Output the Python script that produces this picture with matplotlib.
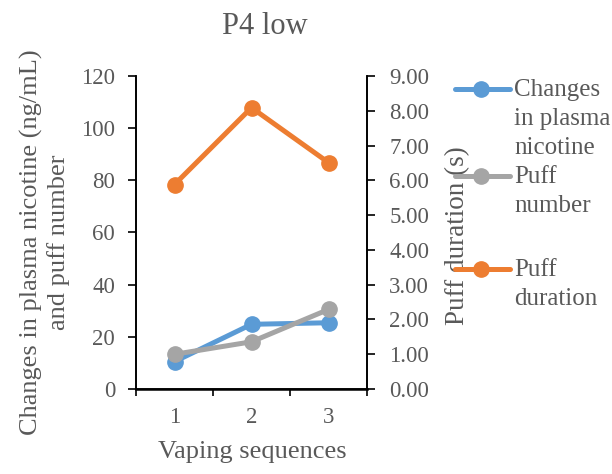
import numpy as np
import matplotlib.pyplot as plt
from matplotlib.lines import Line2D

plt.rcParams['font.family'] = ['Liberation Serif', 'DejaVu Serif']

# --- data ---
sequences = [1, 2, 3]
plasma_nicotine = [10.5, 24.8, 25.4]
puff_number = [13.3, 18.1, 30.5]
puff_duration = [5.88, 8.09, 6.51]

blue = '#5B9BD5'
gray = '#A5A5A5'
orange = '#ED7D31'
txt = '#595959'

W, H = 612, 474
fig = plt.figure(figsize=(W / 100, H / 100), dpi=100)

# plot area in pixels: left 136, right 367, top 76, bottom 389
ax = fig.add_axes([136 / W, 1 - 389 / H, (367 - 136) / W, (389 - 76) / H])
ax2 = ax.twinx()

lw, ms = 3.6, 11
ax.plot(sequences, plasma_nicotine, color=blue, lw=lw, marker='o', ms=ms,
        solid_capstyle='round')
ax.plot(sequences, puff_number, color=gray, lw=lw, marker='o', ms=ms,
        solid_capstyle='round')
ax2.plot(sequences, puff_duration, color=orange, lw=lw, marker='o', ms=ms,
         solid_capstyle='round')

# --- axes ---
ax.set_xlim(0.5, 3.5)
ax.set_ylim(0, 120)
ax2.set_ylim(0, 9)
ax.set_yticks(np.arange(0, 121, 20))
ax2.set_yticks(np.arange(0, 9.01, 1))
ax2.set_yticklabels([f'{v:.2f}' for v in np.arange(0, 9.01, 1)])

ax.set_xticks(sequences)
ax.set_xticks([0.5, 1.5, 2.5, 3.5], minor=True)
ax.tick_params(axis='x', which='major', length=0, pad=13, labelsize=16.5,
               labelcolor=txt)
ax.tick_params(axis='x', which='minor', length=5, width=1.2, direction='out')
ax.tick_params(axis='y', length=6, width=1.2, pad=9, labelsize=16.5,
               labelcolor=txt)
ax2.tick_params(axis='y', length=6, width=1.2, pad=10, labelsize=16.5,
                labelcolor=txt)

for a in (ax, ax2):
    a.spines['top'].set_visible(False)
    for s in ('left', 'right', 'bottom'):
        a.spines[s].set_linewidth(1.2)
        a.spines[s].set_color('black')
ax.spines['bottom'].set_linewidth(1.8)

ax.set_xlabel('Vaping sequences', fontsize=19, color=txt)
ax.xaxis.set_label_coords(0.502, -0.165)
ax.set_ylabel('Changes in plasma nicotine (ng/mL)\nand puff number',
              fontsize=19, color=txt, linespacing=1.25)
ax.yaxis.set_label_coords(-0.285, 0.47)
ax2.set_ylabel('Puff duration (s)', fontsize=19.5, color=txt)
ax2.yaxis.set_label_coords(1.338, 0.49)

fig.text(265 / W, 1 - 26 / H, 'P4 low', ha='center', va='center',
         fontsize=22, color=txt)

# --- legend, drawn by hand so each marker sits on the first text line ---
entries = [
    (blue, 'Changes\nin plasma\nnicotine', 89),
    (gray, 'Puff\nnumber', 176),
    (orange, 'Puff\nduration', 269),
]
for color, label, ypx in entries:
    yf = 1 - ypx / H
    fig.add_artist(Line2D([455 / W, 510 / W], [yf, yf], color=color, lw=lw,
                          transform=fig.transFigure, solid_capstyle='round'))
    fig.add_artist(Line2D([481 / W], [yf], color=color, marker='o', ms=ms,
                          transform=fig.transFigure))
    fig.text(514 / W, 1 - (ypx - 10) / H, label, ha='left', va='top',
             fontsize=18, color=txt, linespacing=1.4)

fig.savefig('out.png', dpi=100)
